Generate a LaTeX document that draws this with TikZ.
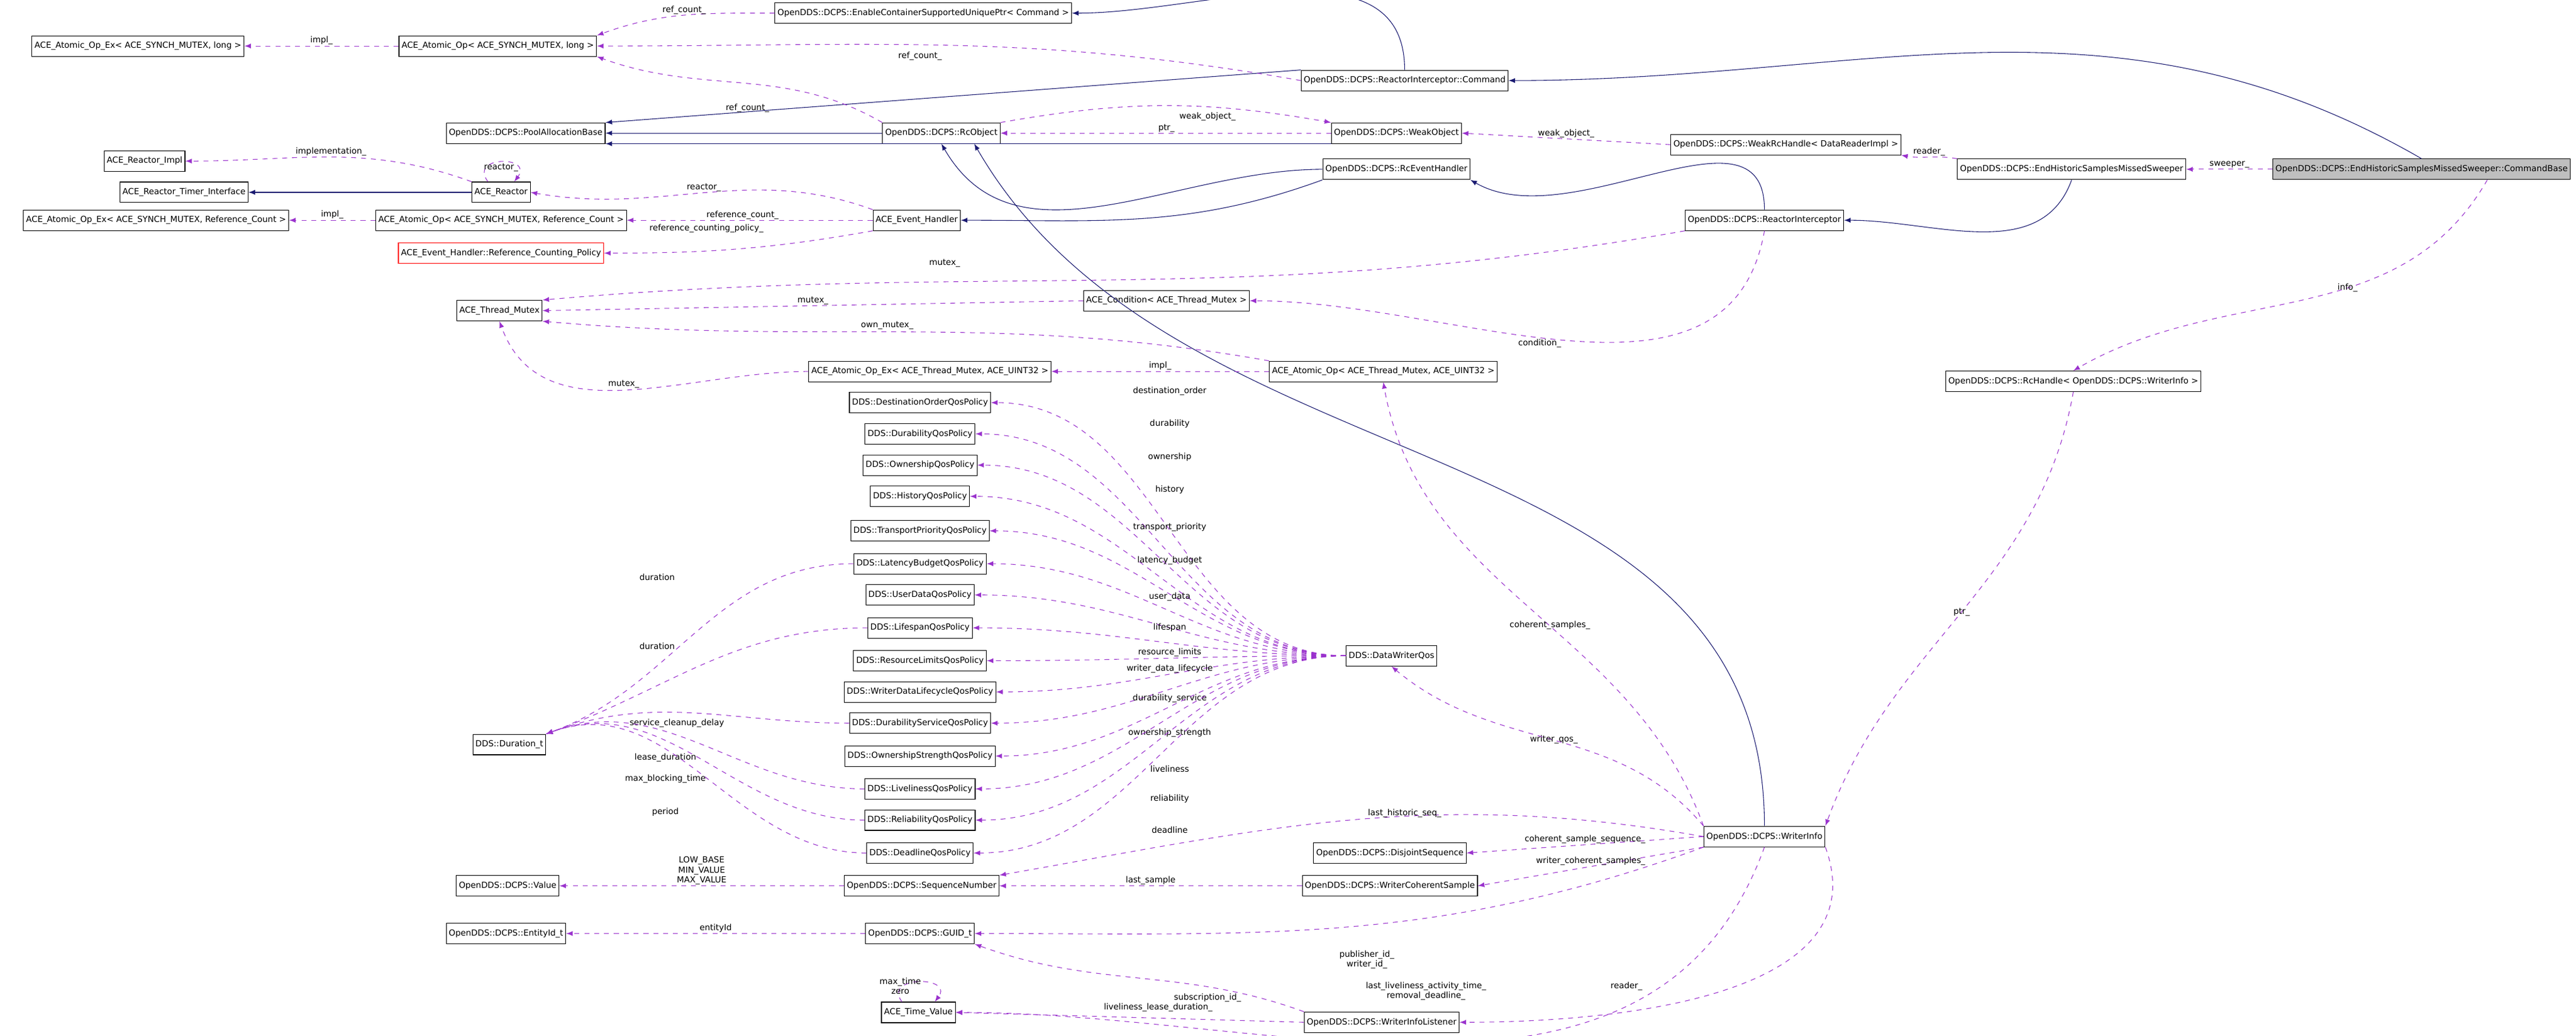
\documentclass[tikz,border=0pt]{standalone}
\usepackage{fontspec}
\setmainfont{DejaVu Sans}
\usetikzlibrary{arrows}
\definecolor{usecol}{HTML}{9A32CD}
\definecolor{inhcol}{HTML}{191970}
\tikzset{
  cls/.style={draw, fill=white, font=\fontsize{5.1}{6}\selectfont, inner sep=1.6pt, minimum height=12.5pt},
  usedby/.style={draw=usecol, dashed, thin, -latex},
  inherit/.style={draw=inhcol, thin, -latex},
  lbl/.style={font=\fontsize{5.1}{6}\selectfont, align=center, inner sep=0.5pt},
}
\begin{document}
\begin{tikzpicture}[x=1pt,y=-1pt]
\useasboundingbox (0,0) rectangle (1568,630);

% classes, top part
\node[cls] (aoexl) at (84,28) {ACE\_Atomic\_Op\_Ex< ACE\_SYNCH\_MUTEX, long >};
\node[cls] (aol) at (303,28) {ACE\_Atomic\_Op< ACE\_SYNCH\_MUTEX, long >};
\node[cls] (ecsup) at (562,8) {OpenDDS::DCPS::EnableContainerSupportedUniquePtr< Command >};
\node[cls] (cmd) at (855,49) {OpenDDS::DCPS::ReactorInterceptor::Command};
\node[cls] (pab) at (320,81) {OpenDDS::DCPS::PoolAllocationBase};
\node[cls] (rco) at (573,81) {OpenDDS::DCPS::RcObject};
\node[cls] (wko) at (850,81) {OpenDDS::DCPS::WeakObject};
\node[cls] (wrh) at (1087,88) {OpenDDS::DCPS::WeakRcHandle< DataReaderImpl >};
\node[cls] (ehs) at (1261,103) {OpenDDS::DCPS::EndHistoricSamplesMissedSweeper};
\node[cls, fill=gray!50] (cbase) at (1474,103) {OpenDDS::DCPS::EndHistoricSamplesMissedSweeper::CommandBase};
\node[cls] (rimpl) at (88,98) {ACE\_Reactor\_Impl};
\node[cls] (rti) at (112,117) {ACE\_Reactor\_Timer\_Interface};
\node[cls] (rea) at (305,117) {ACE\_Reactor};
\node[cls] (reh) at (850,103) {OpenDDS::DCPS::RcEventHandler};
\node[cls] (aoexr) at (95,134) {ACE\_Atomic\_Op\_Ex< ACE\_SYNCH\_MUTEX, Reference\_Count >};
\node[cls] (aor) at (305,134) {ACE\_Atomic\_Op< ACE\_SYNCH\_MUTEX, Reference\_Count >};
\node[cls] (aeh) at (558,134) {ACE\_Event\_Handler};
\node[cls] (rint) at (1074,134) {OpenDDS::DCPS::ReactorInterceptor};
\node[cls, draw=red] (rcp) at (305,154) {ACE\_Event\_Handler::Reference\_Counting\_Policy};
\node[cls] (atm) at (304,189) {ACE\_Thread\_Mutex};
\node[cls] (cond) at (710,183) {ACE\_Condition< ACE\_Thread\_Mutex >};
\node[cls] (aoext) at (566,226) {ACE\_Atomic\_Op\_Ex< ACE\_Thread\_Mutex, ACE\_UINT32 >};
\node[cls] (aot) at (842,226) {ACE\_Atomic\_Op< ACE\_Thread\_Mutex, ACE\_UINT32 >};
\node[cls] (rhwi) at (1262,232) {OpenDDS::DCPS::RcHandle< OpenDDS::DCPS::WriterInfo >};

% qos part
\node[cls] (dwq) at (847,399) {DDS::DataWriterQos};
\foreach \n/\y/\cl/\mem/\ly in {
  dst/245/DestinationOrderQosPolicy/destination\_order/238,
  dur/264/DurabilityQosPolicy/durability/258,
  own/283/OwnershipQosPolicy/ownership/278,
  his/302/HistoryQosPolicy/history/298,
  tpr/323/TransportPriorityQosPolicy/transport\_priority/321,
  lat/343/LatencyBudgetQosPolicy/latency\_budget/341,
  usd/362/UserDataQosPolicy/user\_data/363,
  lif/382/LifespanQosPolicy/lifespan/382,
  rsl/402/ResourceLimitsQosPolicy/resource\_limits/397,
  wdl/421/WriterDataLifecycleQosPolicy/writer\_data\_lifecycle/407,
  dsv/440/DurabilityServiceQosPolicy/durability\_service/425,
  ost/460/OwnershipStrengthQosPolicy/ownership\_strength/446,
  liv/480/LivelinessQosPolicy/liveliness/468,
  rel/499/ReliabilityQosPolicy/reliability/486,
  ddl/519/DeadlineQosPolicy/deadline/505}{
  \node[cls] (\n) at (560,\y) {DDS::\cl};
  \draw[usedby] (dwq.west) to[out=180,in=0] (\n.east);
  \node[lbl] (l\n) at (712,\ly) {\mem};
}
\node[cls] (dtt) at (310,453) {DDS::Duration\_t};
\node[cls] (wi) at (1074,509) {OpenDDS::DCPS::WriterInfo};
\node[cls] (djs) at (846,519) {OpenDDS::DCPS::DisjointSequence};
\node[cls] (val) at (309,539) {OpenDDS::DCPS::Value};
\node[cls] (sqn) at (561,539) {OpenDDS::DCPS::SequenceNumber};
\node[cls] (wcs) at (846,539) {OpenDDS::DCPS::WriterCoherentSample};
\node[cls] (eid) at (308,568) {OpenDDS::DCPS::EntityId\_t};
\node[cls] (guid) at (560,568) {OpenDDS::DCPS::GUID\_t};
\node[cls] (atv) at (559,616) {ACE\_Time\_Value};
\node[cls] (wil) at (841,622) {OpenDDS::DCPS::WriterInfoListener};

% inheritance
\draw[inherit] (cmd.north) to[out=90,in=0] (ecsup.east);
\draw[inherit] (cmd.north west) -- (pab.north east);
\draw[inherit] (cbase.north) to[out=150,in=0] (cmd.east);
\draw[inherit] (rco.west) -- (pab.east);
\draw[inherit] (wko.south west) -- (pab.south east);
\draw[inherit] (reh.west) to[out=180,in=-60] (rco.south);
\draw[inherit] (reh.south west) to[out=200,in=0] (aeh.east);
\draw[inherit] (rint.north) to[out=90,in=-30] (reh.south east);
\draw[inherit] (ehs.south) to[out=-110,in=0] (rint.east);
\draw[inherit] (rea.west) -- (rti.east);
\draw[inherit] (wi.north) to[out=90,in=-60] ([xshift=20]rco.south);

% usage
\draw[usedby] (aol.west) -- node[lbl, above] (limpl1) {impl\_} (aoexl.east);
\draw[usedby] (ecsup.west) to[out=180,in=20] node[lbl, above] (lrc1) {ref\_count\_} (aol.north east);
\draw[usedby] (cmd.west) to[out=170,in=0] (aol.east);
\node[lbl] (lrc2) at (560,34) {ref\_count\_};
\draw[usedby] (rco.north west) to[out=150,in=-20] (aol.south east);
\node[lbl] (lrc3) at (455,66) {ref\_count\_};
\draw[usedby] (rco.north east) to[out=10,in=170] (wko.north west);
\node[lbl] (lwo1) at (735,71) {weak\_object\_};
\draw[usedby] (wko.west) -- (rco.east);
\node[lbl] (lptr1) at (710,78) {ptr\_};
\draw[usedby] (wrh.west) -- node[lbl, above] (lwo2) {weak\_object\_} (wko.east);
\draw[usedby] (ehs.north west) to[out=170,in=-10] node[lbl, above] (lrd1) {reader\_} (wrh.south east);
\draw[usedby] (cbase.west) -- node[lbl, above] (lsw) {sweeper\_} (ehs.east);
\draw[usedby] ([xshift=40]cbase.south) to[out=-120,in=30] node[lbl, pos=0.4] (linfo) {info\_} (rhwi.north);
\draw[usedby] (rea.north west) to[out=160,in=0] node[lbl, above] (limpl2) {implementation\_} (rimpl.east);
\draw[usedby] ([xshift=-8]rea.north) .. controls +(-12,-16) and +(12,-16) .. ([xshift=8]rea.north);
\node[lbl] (lrea1) at (305,102) {reactor\_};
\draw[usedby] (aeh.north west) to[out=160,in=-10] node[lbl, above] (lrea2) {reactor\_} (rea.east);
\draw[usedby] (aor.west) -- node[lbl, above] (limpl3) {impl\_} (aoexr.east);
\draw[usedby] (aeh.west) -- (aor.east);
\node[lbl] (lrefc) at (452,131) {reference\_count\_};
\draw[usedby] (aeh.south west) to[out=190,in=0] (rcp.east);
\node[lbl] (lrcp) at (430,139) {reference\_counting\_policy\_};
\draw[usedby] (rint.south west) to[out=190,in=5] (atm.north east);
\node[lbl] (lmx1) at (575,160) {mutex\_};
\draw[usedby] (rint.south) to[out=-100,in=0] node[lbl, pos=0.55, below] (lcond) {condition\_} (cond.east);
\draw[usedby] (cond.west) -- node[lbl, above] (lmx2) {mutex\_} (atm.east);
\draw[usedby] (aot.north west) to[out=170,in=-5] (atm.south east);
\node[lbl] (lown) at (540,198) {own\_mutex\_};
\draw[usedby] (aoext.west) to[out=180,in=-70] node[lbl, above] (lmx3) {mutex\_} (atm.south);
\draw[usedby] (aot.west) -- node[lbl, above] (limpl4) {impl\_} (aoext.east);
\draw[usedby] (wi.north west) to[out=110,in=-80] node[lbl, pos=0.45] (lcs) {coherent\_samples\_} (aot.south);
\draw[usedby] (rhwi.south) to[out=-100,in=70] node[lbl, pos=0.5] (lptr2) {ptr\_} (wi.north east);

% durations
\foreach \s/\lx/\ly/\mem in {lat/400/351/duration, lif/400/393/duration, dsv/412/440/service\_cleanup\_delay,
  liv/405/461/lease\_duration, rel/405/474/max\_blocking\_time, ddl/405/494/period}{
  \draw[usedby] (\s.west) to[out=180,in=20] (dtt.north east);
  \node[lbl] (d\s) at (\lx,\ly) {\mem};
}

% writer info part
\draw[usedby] (wi.north west) to[out=130,in=-40] node[lbl, pos=0.5] (lwq) {writer\_qos\_} (dwq.south);
\draw[usedby] (wi.west) -- node[lbl, above] (lcss) {coherent\_sample\_sequence\_} (djs.east);
\draw[usedby] (wi.west) to[out=170,in=10] (sqn.north east);
\node[lbl] (lhs) at (855,495) {last\_historic\_seq\_};
\draw[usedby] (wi.south west) -- node[lbl, above] (lwcs) {writer\_coherent\_samples\_} (wcs.east);
\draw[usedby] (wcs.west) -- node[lbl, above] (lls) {last\_sample} (sqn.east);
\draw[usedby] (sqn.west) -- node[lbl, above] (lval) {LOW\_BASE\\MIN\_VALUE\\MAX\_VALUE} (val.east);
\draw[usedby] (wi.south west) to[out=200,in=0] (guid.east);
\node[lbl] (lpub) at (832,584) {publisher\_id\_\\writer\_id\_};
\draw[usedby] (guid.west) -- node[lbl, above] (leid) {entityId} (eid.east);
\draw[usedby] (wi.south) to[out=-110,in=0] (atv.east);
\node[lbl] (llat) at (868,603) {last\_liveliness\_activity\_time\_\\removal\_deadline\_};
\draw[usedby] ([xshift=-10]atv.north) .. controls +(-12,-16) and +(12,-16) .. ([xshift=10]atv.north);
\node[lbl] (lmt) at (548,600) {max\_time\\zero};
\draw[usedby] (wil.north west) to[out=160,in=-20] (guid.south east);
\node[lbl] (lsub) at (735,607) {subscription\_id\_};
\draw[usedby] (wil.west) -- (atv.east);
\node[lbl] (lld) at (705,613) {liveliness\_lease\_duration\_};
\draw[usedby] (wi.south east) to[out=-70,in=0] (wil.east);
\node[lbl] (lrd2) at (990,600) {reader\_};
\end{tikzpicture}
\end{document}
